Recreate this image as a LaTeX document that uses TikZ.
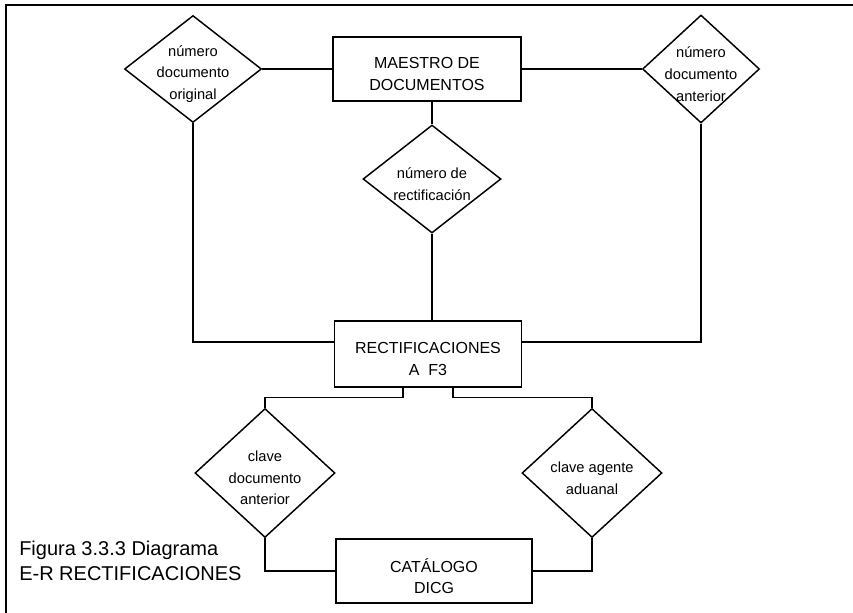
\documentclass[tikz,border=0pt]{standalone}
\usepackage{fontspec}
\setmainfont{Liberation Sans}
\usetikzlibrary{shapes.geometric}
\tikzset{
  ent/.style={draw, rectangle, line width=1.1pt, inner sep=0pt},
  rel/.style={draw, diamond, line width=1.1pt, inner sep=0pt},
  etxt/.style={align=center, font=\fontsize{12}{16}\selectfont, yshift=-3.75pt, inner sep=0pt},
  rtxt/.style={align=center, font=\fontsize{11}{16.3}\selectfont, yshift=-3.75pt, inner sep=0pt},
  conn/.style={line width=1.1pt},
  frame/.style={line width=0.8pt},
}
\begin{document}
\begin{tikzpicture}[x=0.75pt, y=-0.75pt]
\useasboundingbox (0,0) rectangle (853,613);
% frame
\draw[frame] (5,5) -- (853,5);
\draw[frame] (6,5) -- (6,613);
% entities
\node[ent, minimum width=141pt, minimum height=48pt,
      label={[etxt]center:MAESTRO DE\\DOCUMENTOS}] (m) at (427,69) {};
\node[ent, minimum width=140.25pt, minimum height=49.5pt,
      label={[etxt]center:RECTIFICACIONES\\A\ \ F3}] (r) at (428,354) {};
\node[ent, minimum width=147pt, minimum height=48pt,
      label={[etxt]center:CATÁLOGO\\DICG}] (c) at (434,571) {};
% relations
\node[rel, minimum width=102.75pt, minimum height=80.25pt,
      label={[rtxt]center:número\\documento\\original}] (d1) at (193,69) {};
\node[rel, minimum width=87.75pt, minimum height=81pt,
      label={[rtxt]center:número\\documento\\anterior}] (d2) at (701,69) {};
\node[rel, minimum width=103.5pt, minimum height=81pt,
      label={[rtxt]center:número de\\rectificación}] (d3) at (432,179) {};
\node[rel, minimum width=105pt, minimum height=96.75pt,
      label={[rtxt]center:clave\\documento\\anterior}] (d4) at (265,473) {};
\node[rel, minimum width=105pt, minimum height=96.75pt,
      label={[rtxt]center:clave agente\\aduanal}] (d5) at (592,473) {};
% caption
\node[anchor=west, align=left, inner sep=0pt,
      font=\fontsize{15}{18.75}\selectfont] (cap) at (19,561)
      {Figura 3.3.3 Diagrama\\E-R RECTIFICACIONES};
% connectors
\draw[conn] (d1.east) -- (m.west);
\draw[conn] (m.east) -- (d2.west);
\draw[conn] (d3.north) -- (d3.north |- m.south);
\draw[conn] (d3.south) -- (d3.south |- r.north);
\draw[conn] (d1.south) |- ([yshift=9pt]r.west);
\draw[conn] (d2.south) |- ([yshift=9pt]r.east);
\draw[conn] ([xshift=-18.75pt]r.south) -- ++(0,-7.5pt) -| (d4.north);
\draw[conn] ([xshift=18.75pt]r.south) -- ++(0,-7.5pt) -| (d5.north);
\draw[conn] (d4.south) |- (c.west);
\draw[conn] (d5.south) |- (c.east);
\end{tikzpicture}
\end{document}
